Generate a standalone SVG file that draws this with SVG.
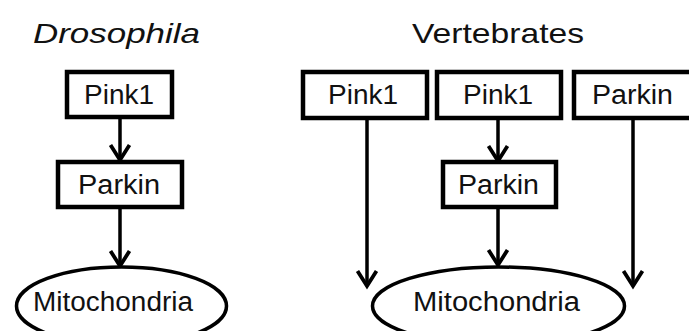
<svg xmlns="http://www.w3.org/2000/svg" width="689" height="331" viewBox="0 0 689 331">
<defs>
<style>
.box{fill:#fff;stroke:#000;stroke-width:4.5}
.ell{fill:#fff;stroke:#000;stroke-width:3.5}
.t{font-family:"Liberation Sans",Arial,sans-serif;font-size:27px;fill:#111;text-anchor:middle}
.h{font-size:28px}
.c line{stroke:#000;stroke-width:3.5}
</style>
<marker id="ah" markerUnits="userSpaceOnUse" viewBox="-20 -12 24 24" refX="0" refY="0" markerWidth="24" markerHeight="24" orient="auto">
<path d="M-15,-9.5 L0,0 L-15,9.5" fill="none" stroke="#000" stroke-width="3.8"/>
</marker>
</defs>
<rect width="689" height="331" fill="#fff"/>
<text class="t h" x="116.5" y="43" font-style="italic" textLength="167" lengthAdjust="spacingAndGlyphs">Drosophila</text>
<text class="t h" x="498" y="43" textLength="172" lengthAdjust="spacingAndGlyphs">Vertebrates</text>
<g id="connectors" class="c">
<line x1="120" y1="119" x2="120" y2="160" marker-end="url(#ah)"/>
<line x1="120" y1="209" x2="120" y2="266" marker-end="url(#ah)"/>
<line x1="367" y1="120" x2="367" y2="286" marker-end="url(#ah)"/>
<line x1="498" y1="120" x2="498" y2="161" marker-end="url(#ah)"/>
<line x1="498" y1="208" x2="498" y2="265" marker-end="url(#ah)"/>
<line x1="633" y1="120" x2="633" y2="286" marker-end="url(#ah)"/>
</g>
<g id="d-pink1">
<rect class="box" x="67" y="72" width="105" height="45"/>
<text class="t" x="119" y="104" textLength="70" lengthAdjust="spacingAndGlyphs">Pink1</text>
</g>
<g id="d-parkin">
<rect class="box" x="58" y="162" width="124" height="45"/>
<text class="t" x="119" y="194" textLength="82" lengthAdjust="spacingAndGlyphs">Parkin</text>
</g>
<g id="d-mito">
<ellipse class="ell" cx="121.5" cy="306" rx="105" ry="39"/>
<text class="t" x="113" y="311" textLength="160" lengthAdjust="spacingAndGlyphs">Mitochondria</text>
</g>
<g id="v-pink1-a">
<rect class="box" x="303" y="72" width="124" height="46"/>
<text class="t" x="363" y="104" textLength="70" lengthAdjust="spacingAndGlyphs">Pink1</text>
</g>
<g id="v-pink1-b">
<rect class="box" x="437" y="72" width="124" height="46"/>
<text class="t" x="498" y="104" textLength="70" lengthAdjust="spacingAndGlyphs">Pink1</text>
</g>
<g id="v-parkin-a">
<rect class="box" x="574" y="72" width="120" height="46"/>
<text class="t" x="632.5" y="104" textLength="81" lengthAdjust="spacingAndGlyphs">Parkin</text>
</g>
<g id="v-parkin-b">
<rect class="box" x="443" y="162" width="113" height="45"/>
<text class="t" x="498.5" y="194" textLength="81" lengthAdjust="spacingAndGlyphs">Parkin</text>
</g>
<g id="v-mito">
<ellipse class="ell" cx="498.5" cy="306" rx="126" ry="39"/>
<text class="t" x="496.5" y="311" textLength="167" lengthAdjust="spacingAndGlyphs">Mitochondria</text>
</g>
</svg>
